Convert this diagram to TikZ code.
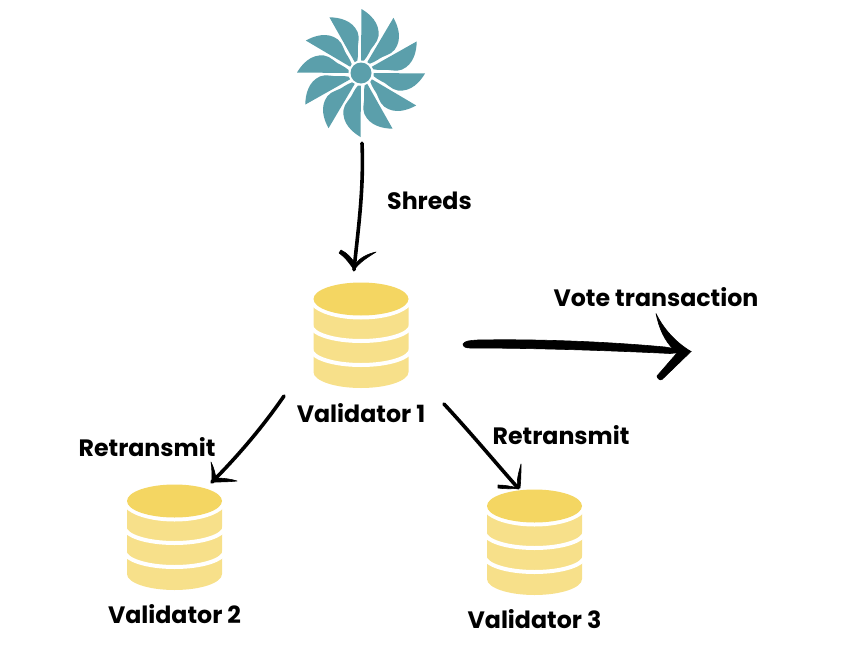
\documentclass[tikz,border=0pt]{standalone}
\usepackage{fontspec}
\setmainfont{Poppins}
\definecolor{teal1}{HTML}{5B9FAB}
\definecolor{ytop}{HTML}{F4D662}
\definecolor{ybody}{HTML}{F7E08A}
\tikzset{
  lbl/.style={font=\fontsize{23.7}{28}\selectfont\bfseries,text=black,inner sep=0pt,anchor=center},
  hub/.style={circle,fill=teal1,minimum size=21pt,inner sep=0pt},
  sunbox/.style={minimum size=128pt,inner sep=0pt},
  db/.style={minimum width=96pt,minimum height=106pt,inner sep=0pt},
  ink/.style={draw=black,line cap=round,line join=round,line width=3.6pt},
  inkfill/.style={fill=black,draw=black,line width=0.6pt,line join=round},
  pics/dbstack/.style={code={
    \fill[ybody] (-47.5,-36) -- (47.5,-36) -- (47.5,37) arc[start angle=0,end angle=180,x radius=47.5,y radius=16] -- cycle;
    \foreach \c in {6,30}{
      \draw[white,line width=4pt] (-50,\c-16) arc[start angle=180,end angle=0,x radius=50,y radius=16];
    }
    \fill[white] (-53,-60) rectangle (53,-36);
    \fill[white] (0,-36) ellipse[x radius=52,y radius=20.5];
    \fill[ytop] (0,-36) ellipse[x radius=47.5,y radius=16.5];
  }},
  pics/petal/.style={code={
    \fill[teal1] (0,-12.5) -- (0.5,-64)
      .. controls (9,-59) and (19,-50) .. (17.5,-37)
      .. controls (16.5,-30) and (11,-27) .. (8,-20)
      .. controls (6.5,-17) and (5,-15) .. (3,-12.5) -- cycle;
  }}
}
\begin{document}
\begin{tikzpicture}[x=1pt,y=-1pt]
\useasboundingbox (0,0) rectangle (860,664);
\foreach \a in {0,30,...,330}{
  \pic[rotate=\a] at (361,73) {petal};
}
\fill[white] (361,73) circle (12.2);
\node[hub] at (361,73) {};
\node[sunbox] (sun) at (361,73) {};
\pic at (361,335) {dbstack};
\pic at (174.5,537) {dbstack};
\pic at (534.5,542) {dbstack};
\node[db] (v1) at (361,335) {};
\node[db] (v2) at (174.5,537) {};
\node[db] (v3) at (534.5,542) {};
\node[lbl] (lshreds) at (429.5,201) {Shreds};
\node[lbl] (lvote) at (656,297) {Vote transaction};
\node[lbl] (lv1) at (361,413) {Validator 1};
\node[lbl] (lr2) at (147,447) {Retransmit};
\node[lbl] (lr3) at (561,435) {Retransmit};
\node[lbl] (lv2) at (174.5,614) {Validator 2};
\node[lbl] (lv3) at (534.5,619) {Validator 3};
% connector ends, taken from the nodes
\coordinate (sA) at ([shift={(1,6)}]sun.south);
\coordinate (sB) at ([shift={(-7,-12)}]v1.north);
\coordinate (lA) at ([shift={(-77,61)}]v1.center);
\coordinate (lB) at ([shift={(37.5,-55)}]v2.center);
\coordinate (rA) at ([shift={(83,69)}]v1.center);
\coordinate (rB) at ([shift={(-16.5,-54)}]v3.center);
\coordinate (vA) at ([shift={(102,9)}]v1.center);
\coordinate (vB) at (691,351.5);
% Shreds
\draw[ink] (sA) .. controls (364,190) and (358,230) .. (sB);
\fill[inkfill] (sB) .. controls (350,264) and (346,258) .. (339,253) -- (341,250) .. controls (347,253) and (352,258) .. (355,264) .. controls (360,258) and (367,254) .. (376,252) .. controls (368,257) and (360,262) .. cycle;
% to Validator 2
\draw[ink] (lA) .. controls (262,428) and (236,458) .. (lB);
\fill[inkfill] (lB) .. controls (212,475) and (212,468) .. (211,462) .. controls (214,468) and (215,473) .. (216,478) .. controls (223,478) and (231,479) .. (237,481) .. controls (228,482) and (220,482) .. cycle;
% to Validator 3
\draw[ink] (rA) .. controls (470,432) and (495,462) .. (rB);
\fill[inkfill] (rB) .. controls (516,480) and (519,472) .. (521,464) .. controls (521,472) and (521,480) .. (520,488) .. controls (512,489) and (504,489) .. (498,488) -- (498,485) .. controls (504,485) and (510,486) .. cycle;
% vote
\fill[inkfill] (vA) .. controls (465,341) and (469,340.5) .. (478,340) .. controls (530,339) and (600,341) .. (665,347) -- (vB)
  -- (670,353.5) .. controls (620,351) and (540,348) .. (470,348) .. controls (466,348) and (463,347) .. cycle;
\fill[inkfill] (656,313.5) .. controls (663,328) and (675,342) .. (vB) -- (674,350) .. controls (664,340) and (659,328) .. cycle;
\fill[inkfill] (vB) -- (662,379.5) .. controls (660,381) and (657,378) .. (657,376) -- (680,349.5) -- cycle;
\end{tikzpicture}
\end{document}
